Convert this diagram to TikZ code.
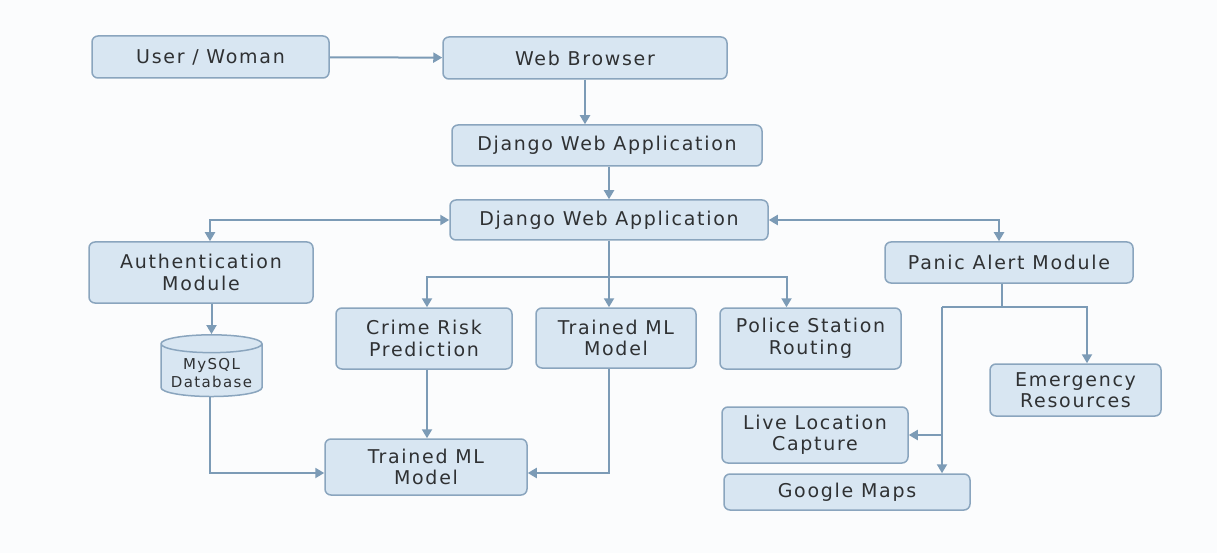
\documentclass[tikz,border=0pt]{standalone}
\usepackage{fontspec}
\setmainfont[LetterSpace=9]{DejaVu Sans}
\usetikzlibrary{arrows.meta,shapes.geometric}

\definecolor{boxfill}{HTML}{D8E6F2}
\definecolor{boxline}{HTML}{8AA5BE}
\definecolor{linkcol}{HTML}{7C9BB6}
\definecolor{textcol}{HTML}{2F3133}
\definecolor{pagebg}{HTML}{FBFCFD}

\tikzset{
  box/.style={draw=boxline, line width=1.5pt, fill=boxfill, rounded corners=6pt,
    inner sep=0pt, align=center, text=textcol,
    font=\fontsize{19}{21.5}\selectfont},
  dbbox/.style={draw=boxline, line width=1.5pt, fill=boxfill, shape=cylinder,
    shape border rotate=90, aspect=0.22, inner sep=0pt, align=center,
    text=textcol, font=\fontsize{15}{18}\selectfont},
  link/.style={draw=linkcol, line width=2pt, -{Triangle[length=9pt,width=10pt]}},
  twoway/.style={draw=linkcol, line width=2pt, {Triangle[length=9pt,width=10pt]}-{Triangle[length=9pt,width=10pt]}},
  plain/.style={draw=linkcol, line width=2pt}
}

\begin{document}
\begin{tikzpicture}[x=1pt,y=-1pt]
        % Page and margins
        \fill[pagebg] (0,0) rectangle (1217,553);
        \useasboundingbox (0,0) rectangle (1217,553);

        % Top row and the two application layers
        \node[box, minimum width=237pt, minimum height=42pt] (user) at (210.5,57) {User / Woman};
        \node[box, minimum width=284pt, minimum height=42pt] (web) at (585,58) {Web Browser};
        \node[box, minimum width=310pt, minimum height=41pt] (dja) at (607,145.5) {Django Web Application};
        \node[box, minimum width=318pt, minimum height=40pt] (djb) at (609,220) {Django Web Application};

        % Left branch
        \node[box, minimum width=224pt, minimum height=61pt] (auth) at (201,272.5) {Authentication\\Module};
        \node[dbbox, minimum width=101pt, minimum height=59pt] (mysql) at (211.5,370.5) {\rule{0pt}{16pt}MySQL\\Database};

        % Middle branch
        \node[box, minimum width=176pt, minimum height=61pt] (crime) at (424,338.5) {Crime Risk\\Prediction};
        \node[box, minimum width=160pt, minimum height=60pt] (mlmid) at (616,338) {Trained ML\\Model};
        \node[box, minimum width=181pt, minimum height=61pt] (police) at (810.5,338.5) {Police Station\\Routing};
        \node[box, minimum width=202pt, minimum height=56pt] (mlbot) at (426,467) {Trained ML\\Model};

        % Right branch
        \node[box, minimum width=248pt, minimum height=41pt] (panic) at (1009,262.5) {Panic Alert Module};
        \node[box, minimum width=171pt, minimum height=52pt] (emerg) at (1075.5,390) {Emergency\\Resources};
        \node[box, minimum width=186pt, minimum height=56pt] (live) at (815,435) {Live Location\\Capture};
        \node[box, minimum width=246pt, minimum height=36pt] (gmaps) at (847,492) {Google Maps};

        % Split points
        \coordinate (midsplit) at (609,277);
        \coordinate (pansplit) at (1002,307);
        \coordinate (panleft) at (942,307);

        % Connectors
        \draw[link] (user) -- (web);
        \draw[link] (web) -- (web |- dja.north);
        \draw[link] (dja.south -| djb.north) -- (djb.north);
        \draw[twoway] ([xshift=9pt]auth.north) |- (djb.west);
        \draw[twoway] (djb.east) -| ([xshift=-10pt]panic.north);

        \draw[plain] (djb.south) -- (midsplit);
        \draw[link] (midsplit) -- (midsplit |- mlmid.north);
        \draw[link] (midsplit) -| ([xshift=3pt]crime.north);
        \draw[link] (midsplit) -| ([xshift=-24pt]police.north);

        \draw[link] (mysql.north |- auth.south) -- (mysql.north);
        \draw[link] ([xshift=-2pt]mysql.south) |- ([yshift=-6pt]mlbot.west);
        \draw[link] ([xshift=3pt]crime.south) -- ([xshift=3pt]crime.south |- mlbot.north);
        \draw[link] (mlmid.south -| midsplit) |- ([yshift=-6pt]mlbot.east);

        \draw[plain] (panic.south -| pansplit) -- (pansplit);
        \draw[plain] (panleft) -- (pansplit);
        \draw[link] (pansplit) -| ([xshift=11.5pt]emerg.north);
        \draw[link] (panleft) -- (panleft |- gmaps.north);
        \draw[link] (panleft |- live.east) -- (live.east);
\end{tikzpicture}
\end{document}
